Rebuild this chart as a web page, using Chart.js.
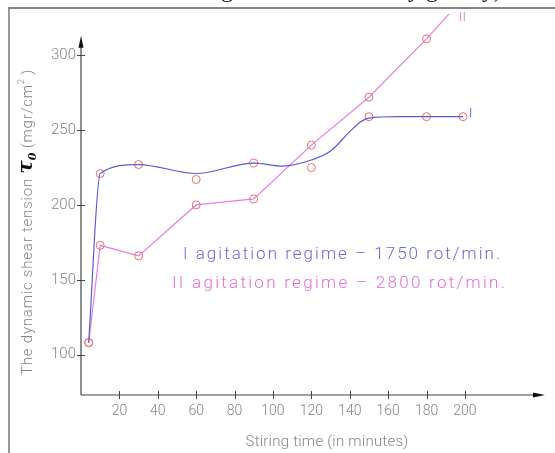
<!DOCTYPE html>
<html>
<head>
<meta charset="utf-8">
<script src="https://cdn.jsdelivr.net/npm/chart.js@4/dist/chart.umd.min.js"></script>
<style>
html, body { margin: 0; padding: 0; background: #fff; }
#wrap { width: 555px; height: 453px; }
</style>
</head>
<body>
<div id="wrap"><canvas id="chart" width="555" height="453"></canvas></div>
<script>
// measured points (the small circles)
var stirTimes = [4, 10, 30, 60, 90, 120, 150, 180, 199];
var regime1 = [108, 221, 227, 217, 228, 225, 259, 259, 259];
var regime2 = [108, 173, 166, 200, 204, 240, 272, 311, 338];

// smoothed curve drawn for regime I
var curveTimes = [4, 10, 30, 60, 90, 105, 120, 130, 140, 145, 150, 165, 180, 199];
var curve1 = [108, 221, 227, 221, 228, 226, 230, 236, 249, 255, 258, 259, 259, 259];

var xTicks = [20, 40, 60, 80, 100, 120, 140, 160, 180, 200];
var yTicks = [100, 150, 200, 250, 300];

var GRAY = '#858585';
var FONT = 'Roboto';

function toXY(xs, ys) {
    return xs.map(function (x, i) { return { x: x, y: ys[i] }; });
}

// draw text stretched with letter spacing so it covers the given width
function spacedText(ctx, text, x, y, width, align) {
    ctx.letterSpacing = '0px';
    var w = ctx.measureText(text).width;
    var sp = (width - w) / text.length;
    ctx.letterSpacing = sp + 'px';
    ctx.textAlign = 'left';
    var x0 = align === 'center' ? x - width / 2 : (align === 'right' ? x - width : x);
    ctx.fillText(text, x0, y);
    ctx.letterSpacing = '0px';
}

var decor = {
    id: 'decor',
    afterDraw: function (chart) {
        var ctx = chart.ctx;
        var xs = chart.scales.x, ys = chart.scales.y;
        var x0 = xs.getPixelForValue(0), y0 = ys.bottom;
        ctx.save();

        // frame of the scanned figure
        ctx.fillStyle = '#9a9a9a';
        ctx.fillRect(8, 8, 2, 445);
        ctx.fillStyle = '#858585';
        ctx.fillRect(8, 7, 547, 2);

        // caption of the page, cut off above
        ctx.fillStyle = '#111';
        ctx.font = '24px "Liberation Serif"';
        ctx.textBaseline = 'alphabetic';
        ctx.textAlign = 'right';
        ctx.fillText('Variation of the tension for stirring', 233, -3);
        ctx.textAlign = 'left';
        ctx.fillText('by gravity)', 396, -3);

        // axes with arrows
        ctx.strokeStyle = '#444';
        ctx.lineWidth = 1.2;
        var yTop = ys.getPixelForValue(313);
        var xEnd = xs.right;
        ctx.beginPath();
        ctx.moveTo(x0, y0); ctx.lineTo(x0, yTop + 8);
        ctx.moveTo(x0, y0); ctx.lineTo(xEnd - 8, y0);
        ctx.stroke();
        ctx.fillStyle = '#111';
        ctx.beginPath();
        ctx.moveTo(x0, yTop); ctx.lineTo(x0 - 2.5, yTop + 12); ctx.lineTo(x0 + 2.5, yTop + 12); ctx.closePath();
        ctx.moveTo(xEnd, y0); ctx.lineTo(xEnd - 12, y0 - 2.5); ctx.lineTo(xEnd - 12, y0 + 2.5); ctx.closePath();
        ctx.fill();

        // tick marks crossing the axes
        ctx.lineWidth = 1;
        ctx.beginPath();
        yTicks.forEach(function (v) {
            var p = Math.round(ys.getPixelForValue(v)) + 0.5;
            ctx.moveTo(x0 - 4, p); ctx.lineTo(x0 + 4, p);
        });
        xTicks.forEach(function (v) {
            var p = Math.round(xs.getPixelForValue(v)) + 0.5;
            ctx.moveTo(p, y0 - 4); ctx.lineTo(p, y0 + 4);
        });
        ctx.stroke();

        // x title
        ctx.fillStyle = GRAY;
        ctx.font = '300 15px ' + FONT;
        spacedText(ctx, 'Stiring time (in minutes)', 327, 446, 163, 'center');

        // y title, rotated, with the bold tau
        var parts = [
            { t: 'The dynamic shear tension ', f: '300 15px ' + FONT, c: GRAY, dy: 0, sp: true },
            { t: '\u03c4', f: 'italic bold 20px "DejaVu Serif"', c: '#111', dy: 0, sp: false },
            { t: '0', f: 'italic bold 11px "DejaVu Serif"', c: '#111', dy: 4, sp: false },
            { t: ' (mgr/cm', f: '300 15px ' + FONT, c: GRAY, dy: 0, sp: true },
            { t: '2', f: '300 9px ' + FONT, c: GRAY, dy: -8, sp: false },
            { t: ' )', f: '300 15px ' + FONT, c: GRAY, dy: 0, sp: true }
        ];
        var natural = 0, nsp = 0;
        parts.forEach(function (p) {
            ctx.font = p.f;
            p.w = ctx.measureText(p.t).width;
            natural += p.w;
            if (p.sp) nsp += p.t.length;
        });
        var sp = (306 - natural) / nsp;
        ctx.translate(32, 375);
        ctx.rotate(-Math.PI / 2);
        var cx = 0;
        parts.forEach(function (p) {
            ctx.font = p.f;
            ctx.fillStyle = p.c;
            ctx.letterSpacing = (p.sp ? sp : 0) + 'px';
            ctx.fillText(p.t, cx, p.dy);
            cx += p.w + (p.sp ? sp * p.t.length : 0);
        });
        ctx.letterSpacing = '0px';
        ctx.setTransform(1, 0, 0, 1, 0, 0);

        // legend text
        ctx.font = '300 17px ' + FONT;
        ctx.fillStyle = '#6a6ad6';
        spacedText(ctx, 'I agitation regime \u2013 1750 rot/min.', 183, 259, 319, 'left');
        ctx.fillStyle = '#e16ed9';
        spacedText(ctx, 'II agitation regime \u2013 2800 rot/min.', 172, 288, 335, 'left');

        // line labels
        ctx.font = '300 13px ' + FONT;
        ctx.textAlign = 'left';
        ctx.fillStyle = '#4848cc';
        ctx.fillText('I', 469, 117);
        ctx.fillStyle = '#d865d8';
        ctx.fillText('II', 459, 21);

        ctx.restore();
    }
};

var ctx = document.getElementById('chart').getContext('2d');
new Chart(ctx, {
    type: 'line',
    data: {
        datasets: [{
            label: 'I (curve)',
            data: toXY(curveTimes, curve1),
            borderColor: '#5b5bd0',
            borderWidth: 1.2,
            pointRadius: 0,
            cubicInterpolationMode: 'monotone',
            fill: false
        }, {
            label: 'II agitation regime - 2800 rot/min.',
            data: toXY(stirTimes, regime2),
            borderColor: '#e47ee2',
            borderWidth: 1.2,
            tension: 0,
            pointRadius: 4,
            pointBorderColor: '#e8706a',
            pointBackgroundColor: 'rgba(0,0,0,0)',
            pointBorderWidth: 1,
            fill: false,
            clip: 0
        }, {
            label: 'I agitation regime - 1750 rot/min.',
            data: toXY(stirTimes, regime1),
            showLine: false,
            pointRadius: 4,
            pointBorderColor: '#e8706a',
            pointBackgroundColor: 'rgba(0,0,0,0)',
            pointBorderWidth: 1
        }]
    },
    options: {
        responsive: false,
        animation: false,
        layout: { padding: { left: 0, right: 10, top: 8, bottom: 0 } },
        plugins: {
            legend: { display: false },
            tooltip: { enabled: false }
        },
        scales: {
            x: {
                type: 'linear',
                min: 0,
                max: 241.7,
                grid: { display: false, drawTicks: false },
                border: { display: false },
                afterFit: function (s) { s.height = 58; },
                afterBuildTicks: function (s) { s.ticks = xTicks.map(function (v) { return { value: v }; }); },
                ticks: {
                    padding: 8,
                    color: GRAY,
                    autoSkip: false,
                    maxRotation: 0,
                    font: { family: FONT, size: 14, weight: 300 }
                }
            },
            y: {
                type: 'linear',
                min: 73,
                max: 327.6,
                grid: { display: false, drawTicks: false },
                border: { display: false },
                afterFit: function (s) { s.width = 81; },
                afterBuildTicks: function (s) { s.ticks = yTicks.map(function (v) { return { value: v }; }); },
                ticks: {
                    padding: 5,
                    color: GRAY,
                    font: { family: FONT, size: 15, weight: 300 }
                }
            }
        }
    },
    plugins: [decor]
});
</script>
</body>
</html>
